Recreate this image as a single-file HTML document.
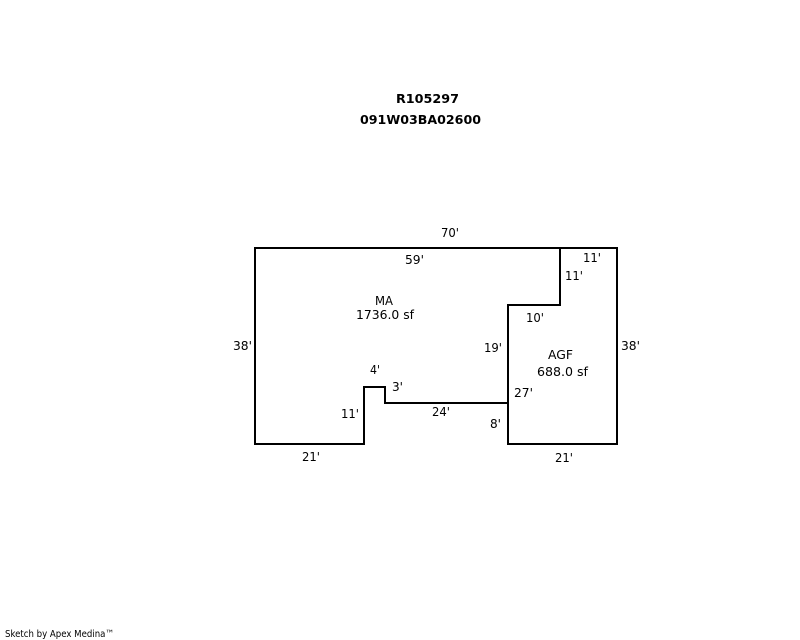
<!DOCTYPE html>
<html>
<head>
<meta charset="utf-8">
<style>
html,body{margin:0;padding:0;background:#fff;width:800px;height:640px;overflow:hidden}
svg{display:block}
text{font-family:"DejaVu Sans","Liberation Sans",sans-serif;font-size:12px;fill:#000}
.b{font-weight:bold}
.f{font-size:10px}
</style>
</head>
<body>
<svg width="800" height="640" viewBox="0 0 800 640" xmlns="http://www.w3.org/2000/svg">
<rect width="800" height="640" fill="#fff"/>
<g fill="none" stroke="#000" stroke-width="2" stroke-linejoin="miter" stroke-linecap="square">
<path d="M255 248H617V444H508V305H560V248"/>
<path d="M255 248V444H364V387H385V403H508"/>
</g>
<text class="b" x="396" y="103" textLength="63" lengthAdjust="spacingAndGlyphs">R105297</text>
<text class="b" x="360" y="124" textLength="121" lengthAdjust="spacingAndGlyphs">091W03BA02600</text>
<text x="441" y="237" textLength="18" lengthAdjust="spacingAndGlyphs">70'</text>
<text x="405" y="264" textLength="19" lengthAdjust="spacingAndGlyphs">59'</text>
<text x="375" y="305" textLength="18" lengthAdjust="spacingAndGlyphs">MA</text>
<text x="356" y="319" textLength="58" lengthAdjust="spacingAndGlyphs">1736.0 sf</text>
<text x="233" y="350" textLength="19" lengthAdjust="spacingAndGlyphs">38'</text>
<text x="621" y="350" textLength="19" lengthAdjust="spacingAndGlyphs">38'</text>
<text x="484" y="352" textLength="18" lengthAdjust="spacingAndGlyphs">19'</text>
<text x="548" y="359" textLength="25" lengthAdjust="spacingAndGlyphs">AGF</text>
<text x="537" y="376" textLength="51" lengthAdjust="spacingAndGlyphs">688.0 sf</text>
<text x="514" y="397" textLength="19" lengthAdjust="spacingAndGlyphs">27'</text>
<text x="490" y="428" textLength="11" lengthAdjust="spacingAndGlyphs">8'</text>
<text x="432" y="416" textLength="18" lengthAdjust="spacingAndGlyphs">24'</text>
<text x="392" y="391" textLength="11" lengthAdjust="spacingAndGlyphs">3'</text>
<text x="370" y="374" textLength="10" lengthAdjust="spacingAndGlyphs">4'</text>
<text x="341" y="418" textLength="18" lengthAdjust="spacingAndGlyphs">11'</text>
<text x="302" y="461" textLength="18" lengthAdjust="spacingAndGlyphs">21'</text>
<text x="555" y="462" textLength="18" lengthAdjust="spacingAndGlyphs">21'</text>
<text x="526" y="322" textLength="18" lengthAdjust="spacingAndGlyphs">10'</text>
<text x="583" y="262" textLength="18" lengthAdjust="spacingAndGlyphs">11'</text>
<text x="565" y="280" textLength="18" lengthAdjust="spacingAndGlyphs">11'</text>
<text class="f" x="5" y="637" textLength="109" lengthAdjust="spacingAndGlyphs">Sketch by Apex Medina™</text>
</svg>
</body>
</html>
